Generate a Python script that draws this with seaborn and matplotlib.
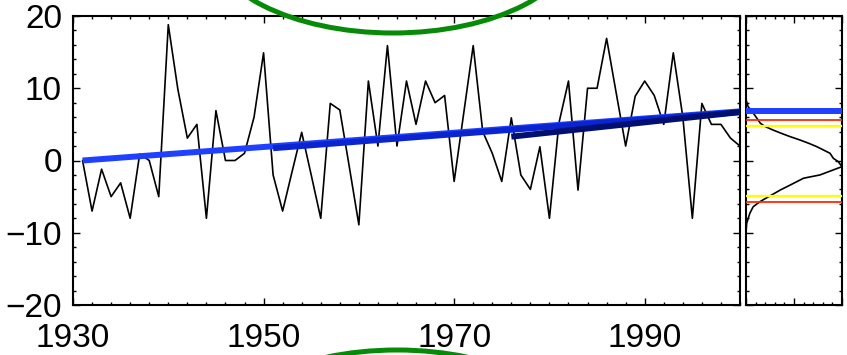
import matplotlib
matplotlib.use("Agg")
import matplotlib.pyplot as plt
from matplotlib.patches import Ellipse
from matplotlib.ticker import MultipleLocator, NullFormatter
import pandas as pd
import seaborn as sns

# Annual anomaly series
years = list(range(1931, 2001))
anomaly = [
    0.0, -7.0, -1.2, -5.0, -3.1, -8.0, 0.9, 0.0, -5.0, 18.8,
    9.9, 3.1, 5.0, -8.0, 6.9, 0.0, 0.0, 1.0, 6.0, 14.9,
    -2.0, -7.0, -1.5, 3.9, -2.0, -8.0, 7.9, 7.0, -0.9, -8.9,
    11.0, 2.0, 15.9, 2.0, 11.0, 5.0, 11.0, 8.0, 9.0, -2.9,
    6.5, 15.9, 4.0, 1.0, -2.9, 5.9, -2.0, -4.0, 1.9, -8.0,
    5.2, 11.0, -4.1, 10.0, 10.0, 16.9, 9.4, 2.0, 8.9, 11.0,
    9.0, 5.0, 14.9, 6.0, -8.0, 7.9, 5.0, 5.0, 3.1, 2.0,
]

# Linear trends over three periods
trend_start_year = [1931, 1951, 1976]
trend_end_year = [2000, 2000, 2000]
trend_start_value = [0.0, 1.7, 3.3]
trend_end_value = [6.8, 6.7, 6.7]
trend_colors = ["#1f40ff", "#0a24d0", "#000f70"]

# Distribution of trends (side panel), level vs. relative density
dist_level = [8.4, 8.0, 7.5, 6.3, 5.15, 4.7, 4.2, 3.75, 3.3, 2.85, 2.4, 1.9,
              1.0, 0.3, -0.15, -0.85, -1.3, -2.0, -2.45, -3.4, -4.1, -4.9,
              -5.7, -6.4, -7.3, -8.7, -9.9]
dist_density = [0.0, 0.01, 0.02, 0.09, 0.15, 0.2, 0.285, 0.37, 0.46, 0.56,
                0.65, 0.74, 0.875, 0.91, 0.96, 1.0, 0.91, 0.77, 0.6, 0.46,
                0.355, 0.25, 0.145, 0.075, 0.04, 0.007, 0.0]
red_levels = [5.6, -5.8]
yellow_levels = [4.75, -4.85]
observed_trend = 6.8

xtick_years = [1930, 1950, 1970, 1990]
ytick_values = [-20, -10, 0, 10, 20]

sns.set_style("ticks")
plt.rcParams["font.family"] = ["Liberation Sans", "DejaVu Sans"]

W, H = 847, 355
fig = plt.figure(figsize=(W / 100, H / 100), dpi=100)
ax = fig.add_axes([73 / W, 1 - 305 / H, (740 - 73) / W, (305 - 16) / H])
ax2 = fig.add_axes([746 / W, 1 - 305 / H, (842 - 746) / W, (305 - 16) / H])

series = pd.DataFrame({"year": years, "anomaly": anomaly})
sns.lineplot(data=series, x="year", y="anomaly", ax=ax, color="black",
             linewidth=1.2, estimator=None, zorder=2)

for x0, x1, y0, y1, c in zip(trend_start_year, trend_end_year,
                             trend_start_value, trend_end_value, trend_colors):
    sns.lineplot(x=[x0, x1], y=[y0, y1], ax=ax, color=c, linewidth=4.3,
                 estimator=None, solid_capstyle="butt", zorder=3)

ax.set_xlim(1930, 2000)
ax.set_ylim(-20, 20)
ax.set_xticks(xtick_years)
ax.set_yticks(ytick_values)
ax.xaxis.set_minor_locator(MultipleLocator(2))
ax.yaxis.set_minor_locator(MultipleLocator(2))
ax.set_xlabel("")
ax.set_ylabel("")

# Side panel
sns.lineplot(x=dist_density, y=dist_level, ax=ax2, color="black",
             linewidth=1.2, sort=False, estimator=None, zorder=2)
for lv in yellow_levels:
    ax2.axhline(lv, color="#ffff00", linewidth=1.6, zorder=3)
for lv in red_levels:
    ax2.axhline(lv, color="#ff2a00", linewidth=1.3, zorder=3)
ax2.axhline(observed_trend, color=trend_colors[0], linewidth=4.3, zorder=4)
ax2.set_xlim(0, 1)
ax2.set_ylim(-20, 20)
ax2.set_xticks([0, 0.5, 1])
ax2.set_yticks(ytick_values)
ax2.xaxis.set_minor_locator(MultipleLocator(0.1))
ax2.yaxis.set_minor_locator(MultipleLocator(2))
ax2.xaxis.set_major_formatter(NullFormatter())
ax2.yaxis.set_major_formatter(NullFormatter())
ax2.set_xlabel("")
ax2.set_ylabel("")

for a in (ax, ax2):
    for s in a.spines.values():
        s.set_visible(True)
        s.set_linewidth(1.5)
        s.set_color("black")
    a.tick_params(which="both", direction="in", top=True, right=True,
                  bottom=True, left=True, color="black", width=1.0)
    a.tick_params(which="major", length=5)
    a.tick_params(which="minor", length=2.5)

ax.tick_params(axis="both", which="major", labelsize=24, labelcolor="black")
ax.tick_params(axis="x", which="major", pad=13)
ax.tick_params(axis="y", which="major", pad=8)

# Highlight ellipses above and below the panels
for cx, cy in [(393, -62), (397, 445)]:
    fig.patches.append(Ellipse((cx / W, 1 - cy / H), 370 / W, 190 / H,
                               transform=fig.transFigure, fill=False,
                               edgecolor="#078a07", linewidth=3.6,
                               clip_on=False, zorder=10))

fig.savefig("out.png", dpi=100)
